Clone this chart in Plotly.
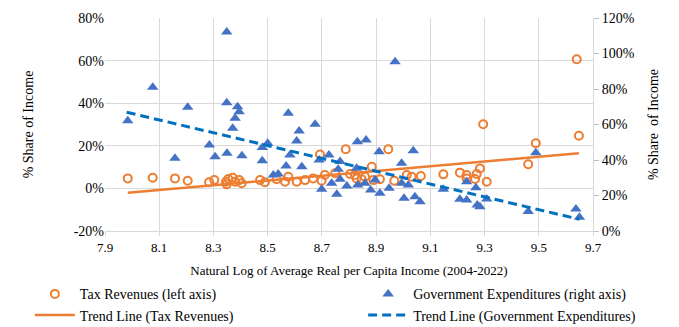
import plotly.graph_objects as go

# Tax revenues (left axis, % share of income)
tax_x = [7.984, 8.076, 8.158, 8.205, 8.284, 8.303, 8.346, 8.349, 8.355, 8.371, 8.380, 8.395,
         8.404, 8.472, 8.490, 8.533, 8.564, 8.576, 8.607, 8.638, 8.668, 8.693, 8.699, 8.711,
         8.749, 8.788, 8.804, 8.822, 8.828, 8.847, 8.859, 8.884, 8.890, 8.914, 8.945, 8.967,
         9.013, 9.031, 9.065, 9.148, 9.209, 9.234, 9.234, 9.265, 9.271, 9.283, 9.295, 9.308,
         9.461, 9.489, 9.640, 9.648]
tax_y = [4.7, 5.0, 4.7, 3.6, 2.9, 3.9, 3.1, 1.9, 4.4, 5.0, 3.1, 3.9,
         2.4, 3.9, 2.9, 4.3, 3.1, 5.5, 3.1, 3.9, 4.7, 15.9, 3.6, 6.3,
         7.1, 18.4, 6.8, 6.3, 4.7, 4.3, 5.5, 10.2, 3.9, 4.3, 18.4, 3.6,
         6.3, 5.5, 5.8, 6.6, 7.4, 6.3, 4.7, 4.4, 6.8, 9.4, 30.1, 3.1,
         11.3, 21.2, 60.6, 24.7]

# Government expenditures (right axis, % share of income)
gov_x = [7.984, 8.076, 8.158, 8.205, 8.349, 8.349, 8.389, 8.395, 8.380, 8.371, 8.285, 8.306,
         8.350, 8.405, 8.480, 8.480, 8.500, 8.576, 8.675, 8.616, 8.607, 8.970, 8.582, 8.568,
         8.626, 8.690, 8.726, 8.831, 8.863, 8.911, 8.994, 9.037, 8.767, 8.521, 8.539, 8.699,
         8.736, 8.755, 8.767, 8.792, 8.828, 8.832, 8.859, 8.880, 8.896, 8.914, 8.948, 8.994,
         9.003, 9.019, 9.043, 9.062, 9.148, 9.209, 9.234, 9.234, 9.268, 9.273, 9.283, 9.308,
         9.461, 9.489, 9.637, 9.650, 8.760]
gov_y = [62.1, 81.0, 41.0, 69.7, 112.1, 72.3, 70.0, 67.2, 63.5, 57.9, 48.5, 41.9,
         43.8, 42.4, 39.6, 47.1, 49.4, 66.3, 60.1, 56.3, 50.7, 95.4, 42.8, 36.6,
         36.2, 40.0, 42.8, 50.3, 51.3, 44.7, 38.1, 45.2, 39.1, 31.5, 32.1, 23.5,
         26.9, 20.7, 29.1, 25.3, 35.3, 25.9, 26.9, 23.1, 28.7, 21.2, 24.1, 26.9,
         18.4, 25.9, 19.3, 16.5, 23.5, 17.9, 17.5, 27.8, 24.4, 14.6, 13.7, 18.0,
         11.0, 44.1, 12.4, 7.7, 34.8]

# Trend lines (endpoints)
tax_trend_x = [7.984, 9.648]
tax_trend_y = [-2.0, 16.5]
gov_trend_x = [7.980, 9.650]
gov_trend_y = [66.9, 6.6]

x_ticks = [7.9, 8.1, 8.3, 8.5, 8.7, 8.9, 9.1, 9.3, 9.5, 9.7]
left_ticks = [-20, 0, 20, 40, 60, 80]
right_ticks = [0, 20, 40, 60, 80, 100, 120]

ORANGE = "#ED7D31"
BLUE = "#4472C4"
DBLUE = "#0070C0"
GRID = "#D9D9D9"
FONT = "Liberation Serif, Times New Roman, serif"

fig = go.Figure()
fig.add_trace(go.Scatter(
    x=tax_x, y=tax_y, mode="markers", name="Tax Revenues (left axis)",
    marker=dict(symbol="circle-open", size=8, color=ORANGE, line=dict(width=2, color=ORANGE)),
    yaxis="y", legend="legend"))
fig.add_trace(go.Scatter(
    x=gov_x, y=gov_y, mode="markers", name="Government Expenditures (right axis)",
    marker=dict(symbol="triangle-up", size=10, color=BLUE),
    yaxis="y2", legend="legend2"))
fig.add_trace(go.Scatter(
    x=tax_trend_x, y=tax_trend_y, mode="lines", name="Trend Line (Tax Revenues)",
    line=dict(color=ORANGE, width=2.5), yaxis="y", legend="legend"))
fig.add_trace(go.Scatter(
    x=gov_trend_x, y=gov_trend_y, mode="lines", name="Trend Line (Government Expenditures)",
    line=dict(color=DBLUE, width=3, dash="9px,5px"), yaxis="y2", legend="legend2"))

legend_common = dict(
    orientation="v", yref="container", yanchor="top", y=0.149, xanchor="left",
    font=dict(family=FONT, size=14), tracegroupgap=0, itemwidth=40,
    bgcolor="rgba(0,0,0,0)", traceorder="normal",
)

fig.update_layout(
    width=679, height=327,
    margin=dict(l=105, r=86, t=18, b=96),
    paper_bgcolor="white", plot_bgcolor="white",
    font=dict(family=FONT, size=14, color="black"),
    xaxis=dict(
        range=[7.9, 9.7], tickvals=x_ticks, ticktext=[f"{v:.1f}" for v in x_ticks],
        showgrid=True, gridcolor=GRID, gridwidth=1, zeroline=False,
        showline=True, linecolor=GRID, ticks="outside", ticklen=4, tickcolor=GRID,
        tickfont=dict(family=FONT, size=13), automargin=False,
        title=dict(text="Natural Log of Average Real per Capita Income (2004-2022)",
                   font=dict(family=FONT, size=13), standoff=19),
    ),
    yaxis=dict(
        range=[-20, 80], tickvals=left_ticks, ticktext=[f"{v}%" for v in left_ticks],
        showgrid=True, gridcolor=GRID, gridwidth=1, zeroline=False,
        showline=False, tickfont=dict(family=FONT, size=14), automargin=False,
        title=dict(text="% Share of Income", font=dict(family=FONT, size=14), standoff=36),
    ),
    yaxis2=dict(
        range=[0, 120], tickvals=right_ticks, ticktext=[f"{v}%" for v in right_ticks],
        overlaying="y", side="right",
        showgrid=False, zeroline=False, showline=True, linecolor=GRID,
        ticks="outside", ticklen=5, tickcolor="#BFBFBF", automargin=False,
        tickfont=dict(family=FONT, size=14),
        title=dict(text="% Share  of Income", font=dict(family=FONT, size=14), standoff=14),
    ),
    legend=dict(x=-0.154, **legend_common),
    legend2=dict(x=0.529, **legend_common),
    showlegend=True,
)

fig.write_html("out.html")
